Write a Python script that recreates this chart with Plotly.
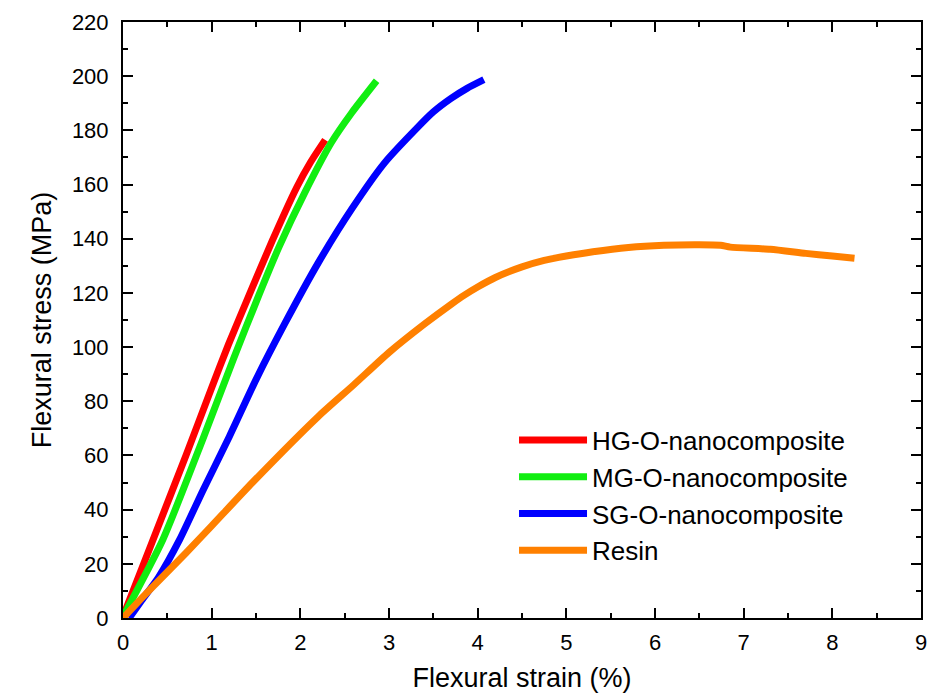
import plotly.graph_objects as go

# ---- data ----
hg_strain = [0.0, 0.34, 0.71, 1.00, 1.19, 1.42, 1.68, 1.96, 2.12, 2.28]
hg_stress = [0.5, 29.0, 60.0, 85.0, 101.0, 119.0, 139.0, 159.0, 168.5, 176.5]

mg_strain = [0.0, 0.45, 0.90, 1.25, 1.53, 1.76, 2.05, 2.35, 2.58, 2.86]
mg_stress = [0.5, 29.0, 66.0, 96.0, 119.0, 137.0, 157.0, 175.5, 186.5, 198.3]

sg_strain = [0.07, 0.20, 0.40, 0.64, 0.90, 1.20, 1.50, 1.83, 2.20, 2.58, 2.95, 3.32, 3.50, 3.70, 3.88, 4.07]
sg_stress = [0.0, 6.0, 15.0, 29.0, 47.0, 67.0, 88.0, 109.0, 131.0, 151.0, 168.0, 181.0, 186.8, 191.8, 195.5, 198.7]

resin_strain = [0.0, 0.26, 0.71, 1.00, 1.46, 2.20, 2.60, 3.00, 3.40, 3.70, 3.85, 4.00, 4.20, 4.50, 4.75,
                5.00, 5.30, 5.70, 6.10, 6.50, 6.74, 6.85, 7.30, 7.70, 8.00, 8.25]
resin_stress = [0.0, 9.0, 24.0, 34.0, 50.0, 74.3, 86.0, 98.0, 108.5, 115.8, 119.2, 122.2, 125.7, 129.6, 132.0,
                133.6, 135.2, 136.8, 137.6, 137.8, 137.6, 136.9, 136.1, 134.6, 133.6, 132.8]

names = ["HG-O-nanocomposite", "MG-O-nanocomposite", "SG-O-nanocomposite", "Resin"]
colors = ["#FF0000", "#11EE11", "#0000FF", "#FF8000"]

x_ticks = list(range(0, 10))
y_ticks = list(range(0, 221, 20))

series = [(hg_strain, hg_stress), (mg_strain, mg_stress),
          (sg_strain, sg_stress), (resin_strain, resin_stress)]

fig = go.Figure()
for (xs, ys), name, col in zip(series, names, colors):
    fig.add_trace(go.Scatter(x=xs, y=ys, mode="lines", name=name,
                             line=dict(color=col, width=7, shape="spline", smoothing=0.6)))

font_family = "Liberation Sans, Arial, sans-serif"
axis_common = dict(
    showline=True, linecolor="black", linewidth=2, mirror="allticks",
    ticks="inside", ticklen=10, tickwidth=2, tickcolor="black",
    showgrid=False, zeroline=False,
    tickfont=dict(family=font_family, size=22, color="black"),
)

fig.update_xaxes(range=[0, 9], tickvals=x_ticks, ticktext=[str(v) for v in x_ticks],
                 minor=dict(ticks="inside", ticklen=5, tickwidth=2, tickcolor="black", dtick=0.5, showgrid=False),
                 title=dict(text="Flexural strain (%)", font=dict(family=font_family, size=27, color="black"), standoff=14),
                 ticklabelstandoff=4,
                 **axis_common)
fig.update_yaxes(range=[0, 220], tickvals=y_ticks, ticktext=[str(v) for v in y_ticks],
                 minor=dict(ticks="inside", ticklen=5, tickwidth=2, tickcolor="black", dtick=10, showgrid=False),
                 title=dict(text="Flexural stress (MPa)", font=dict(family=font_family, size=27, color="black"), standoff=12),
                 ticklabelstandoff=8,
                 **axis_common)

fig.update_layout(
    width=933, height=700,
    margin=dict(l=123, r=6, t=22, b=82),
    paper_bgcolor="white", plot_bgcolor="white",
    font=dict(family=font_family, color="black"),
    legend=dict(x=0.49, y=0.338, xanchor="left", yanchor="top",
                bgcolor="rgba(0,0,0,0)", borderwidth=0,
                font=dict(family=font_family, size=26, color="black"),
                itemwidth=68, tracegroupgap=0),
)

fig.write_html("out.html")
